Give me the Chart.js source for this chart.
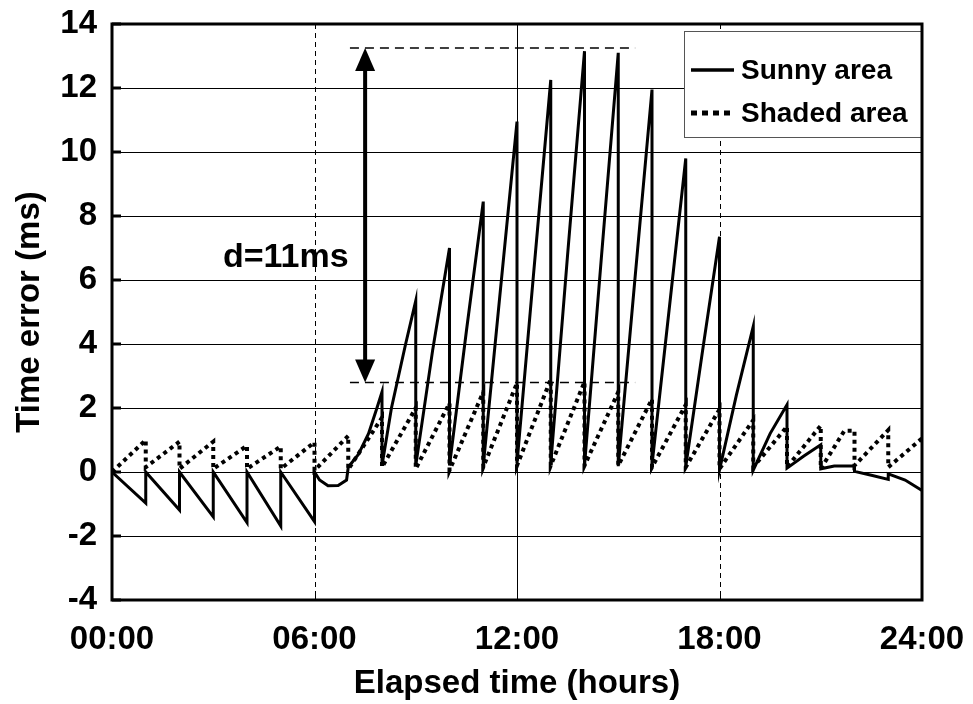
<!DOCTYPE html>
<html lang="en">
<head>
<meta charset="UTF-8">
<title>Time error</title>
<script src="https://cdn.jsdelivr.net/npm/chart.js"></script>
<style>
  html, body { margin: 0; padding: 0; background: #fff; }
</style>
</head>
<body>
<canvas id="time-error" width="973" height="704"></canvas>
<script>
// values (hours, ms)
const sunnyHours = [0, 1, 1, 2, 2, 3, 3, 4, 4, 5, 5, 6, 6, 6.15, 6.4, 6.7, 6.95, 7, 7.3, 7.6, 7.85, 8,
    8, 8.28, 8.7, 9, 9, 9.5, 10, 10, 10.5, 11, 11, 11.5, 12, 12, 12.5, 13, 13, 13.5, 14, 14, 14.5, 15,
    15, 15.5, 16, 16, 16.5, 17, 17, 17.5, 18, 18, 18.5, 19, 19, 19.5, 20, 20, 20.5, 21, 21, 21.4, 22,
    22, 22.5, 23, 23, 23.5, 24];
const sunnyValues = [0, -0.97, 0, -1.19, 0, -1.40, 0, -1.58, 0, -1.69, 0, -1.55, 0, -0.25, -0.43, -0.42, -0.25, 0.15, 0.55, 1.2, 2.0, 2.5,
    0.2, 2.0, 4.0, 5.35, 0.2, 3.8, 7.0, 0.2, 4.4, 8.45, 0.2, 5.6, 10.95, 0.28, 6.3, 12.25, 0.25, 6.8, 13.15, 0.2, 6.7, 13.1,
    0.18, 6.1, 11.95, 0.22, 5.0, 9.8, 0.17, 3.8, 7.35, 0.06, 2.4, 4.55, 0.06, 1.2, 2.1, 0.12, 0.5, 0.85, 0.1, 0.19, 0.19,
    0.02, -0.1, -0.23, -0.06, -0.25, -0.58];

const shadedHours = [0, 1, 1, 2, 2, 3, 3, 4, 4, 5, 5, 6, 6, 7, 7, 8, 8, 9, 9, 10, 10, 11, 11, 12, 12, 13, 13, 14,
    14, 15, 15, 16, 16, 17, 17, 18, 18, 19, 19, 20, 20, 21, 21, 21.7, 22, 22, 23, 23, 24];
const shadedValues = [0, 1.0, 0.15, 0.95, 0.1, 0.95, 0.1, 0.82, 0.1, 0.8, 0.1, 0.93, 0.05, 1.13, 0.08, 1.7, 0.15, 2.0, 0.1, 2.15, 0.05, 2.5, 0.15, 2.78, 0.2, 2.9, 0.2, 2.82,
    0.2, 2.5, 0.2, 2.28, 0.15, 2.1, 0.15, 1.96, 0.1, 1.62, 0.15, 1.42, 0.15, 1.45, 0.1, 1.29, 1.29, 0.2, 1.31, 0.15, 1.05];

const seriesNames = ['Sunny area', 'Shaded area'];
const xTicks = [0, 6, 12, 18, 24];
const dashedHours = [6, 18];
const solidHours = [12];

// d = 11 ms annotation
const spanHours = [7.05, 15.5];
const spanLevels = [13.25, 2.8];
const arrowHour = 7.5;
const spanLabel = 'd=11ms';
const spanLabelAt = [5.15, 6.7];

const FONT = "'Liberation Sans', Arial, Helvetica, sans-serif";

function toPoints(hours, values) {
    return hours.map((h, i) => ({ x: h, y: values[i] }));
}

function drawArrowHead(ctx, x, tipY, dir) {
    ctx.beginPath();
    ctx.moveTo(x, tipY);
    ctx.lineTo(x - 10, tipY + dir * 23);
    ctx.lineTo(x + 10, tipY + dir * 23);
    ctx.closePath();
    ctx.fill();
}

const extras = {
    id: 'extras',
    beforeDatasetsDraw(chart) {
        const { ctx, chartArea: a, scales: { x } } = chart;
        ctx.save();
        ctx.strokeStyle = '#000';
        ctx.lineWidth = 1;
        ctx.setLineDash([5, 4]);
        dashedHours.forEach(h => {
            const px = Math.round(x.getPixelForValue(h)) + 0.5;
            ctx.beginPath();
            ctx.moveTo(px, a.top);
            ctx.lineTo(px, a.bottom);
            ctx.stroke();
        });
        ctx.setLineDash([]);
        solidHours.forEach(h => {
            const px = Math.round(x.getPixelForValue(h)) + 0.5;
            ctx.beginPath();
            ctx.moveTo(px, a.top);
            ctx.lineTo(px, a.bottom);
            ctx.stroke();
        });
        ctx.restore();
    },
    afterDatasetsDraw(chart) {
        const { ctx, chartArea: a, scales: { x, y } } = chart;
        ctx.save();
        ctx.fillStyle = '#000';
        ctx.strokeStyle = '#000';

        // double arrow
        const ax = x.getPixelForValue(arrowHour);
        const top = y.getPixelForValue(spanLevels[0]);
        const bot = y.getPixelForValue(spanLevels[1]);
        ctx.lineWidth = 4;
        ctx.beginPath();
        ctx.moveTo(ax, top + 20);
        ctx.lineTo(ax, bot - 20);
        ctx.stroke();
        drawArrowHead(ctx, ax, top, 1);
        drawArrowHead(ctx, ax, bot, -1);

        ctx.font = 'bold 34px ' + FONT;
        ctx.textAlign = 'center';
        ctx.textBaseline = 'middle';
        ctx.fillText(spanLabel, x.getPixelForValue(spanLabelAt[0]), y.getPixelForValue(spanLabelAt[1]));

        // legend box
        const bw = 238, bh = 106;
        const bx = a.right - bw, by = a.top + 7;
        ctx.fillStyle = '#fff';
        ctx.fillRect(bx, by, bw, bh);
        ctx.lineWidth = 1;
        ctx.strokeStyle = '#555';
        ctx.strokeRect(bx + 0.5, by + 0.5, bw, bh);
        ctx.strokeStyle = '#000';
        ctx.fillStyle = '#000';
        ctx.textAlign = 'left';
        ctx.font = 'bold 28px ' + FONT;
        chart.data.datasets.slice(0, 2).forEach((ds, i) => {
            const ly = by + 39 + i * 43;
            ctx.lineWidth = i === 0 ? 3.5 : 5;
            ctx.setLineDash(i === 0 ? [] : [6, 5]);
            ctx.beginPath();
            ctx.moveTo(bx + 7, ly);
            ctx.lineTo(bx + 50, ly);
            ctx.stroke();
            ctx.setLineDash([]);
            ctx.fillText(ds.label, bx + 57, ly + 1);
        });

        // frame and inner tick marks
        ctx.lineWidth = 3;
        ctx.strokeRect(a.left, a.top, a.right - a.left, a.bottom - a.top);
        y.ticks.forEach(t => {
            const py = y.getPixelForValue(t.value);
            ctx.beginPath();
            ctx.moveTo(a.left, py);
            ctx.lineTo(a.left + 9, py);
            ctx.stroke();
        });
        ctx.lineWidth = 1;
        xTicks.forEach(h => {
            const px = Math.round(x.getPixelForValue(h)) + 0.5;
            ctx.beginPath();
            ctx.moveTo(px, a.bottom);
            ctx.lineTo(px, a.bottom - 6);
            ctx.stroke();
        });
        ctx.restore();
    }
};

Chart.defaults.font.family = FONT;
Chart.defaults.font.weight = 'bold';
Chart.defaults.font.size = 33;
Chart.defaults.color = '#000';

new Chart(document.getElementById('time-error'), {
    type: 'line',
    data: {
        datasets: [{
            label: seriesNames[0],
            data: toPoints(sunnyHours, sunnyValues),
            borderColor: '#000',
            borderWidth: 3,
            pointRadius: 0,
            tension: 0
        }, {
            label: seriesNames[1],
            data: toPoints(shadedHours, shadedValues),
            borderColor: '#000',
            borderWidth: 4,
            borderDash: [4, 4],
            pointRadius: 0,
            tension: 0
        }, {
            label: 'top',
            data: toPoints(spanHours, [spanLevels[0], spanLevels[0]]),
            borderColor: '#000',
            borderWidth: 1.5,
            borderDash: [9, 6],
            pointRadius: 0
        }, {
            label: 'bottom',
            data: toPoints(spanHours, [spanLevels[1], spanLevels[1]]),
            borderColor: '#000',
            borderWidth: 1.5,
            borderDash: [9, 6],
            pointRadius: 0
        }]
    },
    options: {
        responsive: false,
        animation: false,
        layout: { padding: { left: 0, right: 51, top: 24, bottom: 0 } },
        plugins: {
            legend: { display: false },
            tooltip: { enabled: false }
        },
        scales: {
            x: {
                type: 'linear',
                min: 0,
                max: 24,
                afterFit: s => {
                    s.height = 104;
                    s.paddingLeft = 0;
                    s.paddingRight = 0;
                },
                afterBuildTicks: s => { s.ticks = xTicks.map(v => ({ value: v })); },
                grid: { display: false },
                border: { display: false },
                ticks: {
                    autoSkip: false,
                    maxRotation: 0,
                    padding: 12,
                    callback: v => String(v).padStart(2, '0') + ':00'
                },
                title: {
                    display: true,
                    text: 'Elapsed time (hours)',
                    padding: { top: 0, bottom: 0 }
                }
            },
            y: {
                min: -4,
                max: 14,
                afterFit: s => {
                    s.width = 112;
                    s.paddingTop = 0;
                    s.paddingBottom = 0;
                },
                grid: { color: '#000', lineWidth: 1, drawTicks: false },
                border: { display: false },
                ticks: { stepSize: 2, padding: 15 },
                title: {
                    display: true,
                    text: 'Time error (ms)',
                    padding: { top: 10, bottom: 0 }
                }
            }
        }
    },
    plugins: [extras]
});
</script>
</body>
</html>
